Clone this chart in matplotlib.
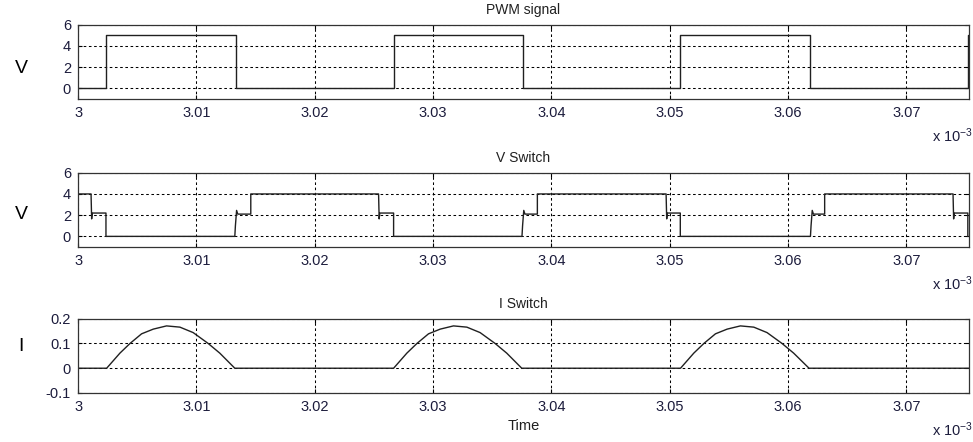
import matplotlib.pyplot as plt

plt.rcParams['font.family'] = ['Liberation Sans', 'DejaVu Sans']
plt.rcParams['mathtext.fontset'] = 'custom'
plt.rcParams['mathtext.rm'] = 'Liberation Sans'
plt.rcParams['mathtext.it'] = 'Liberation Sans'

# time axis values are in units of 1e-3 s
x_ticks = [3.0, 3.01, 3.02, 3.03, 3.04, 3.05, 3.06, 3.07]
x_tick_labels = ['3', '3.01', '3.02', '3.03', '3.04', '3.05', '3.06', '3.07']

# PWM signal
pwm_t = [3.0, 3.00236, 3.00236, 3.01333, 3.01333, 3.02667, 3.02667, 3.03758,
         3.03758, 3.0509, 3.0509, 3.0619, 3.0619, 3.0752, 3.0752, 3.0753]
pwm_v = [0, 0, 5, 5, 0, 0, 5, 5, 0, 0, 5, 5, 0, 0, 5, 5]

# V switch
vsw_t = [3.0, 3.0011, 3.00115, 3.0012, 3.00236, 3.00236,
         3.01325, 3.0133, 3.0134, 3.0135, 3.0146, 3.0146,
         3.0254, 3.02545, 3.0255, 3.02667, 3.02667,
         3.03752, 3.03757, 3.03767, 3.03777, 3.03882, 3.03882,
         3.0497, 3.04975, 3.0498, 3.0509, 3.0509,
         3.0619, 3.06195, 3.06205, 3.06215, 3.0631, 3.0631,
         3.07395, 3.074, 3.07405, 3.0752, 3.0752]
vsw_v = [4.0, 4.0, 1.65, 2.2, 2.2, 0,
         0, 1.0, 2.45, 2.1, 2.1, 4.0,
         4.0, 1.65, 2.2, 2.2, 0,
         0, 1.0, 2.45, 2.1, 2.1, 4.0,
         4.0, 1.65, 2.2, 2.2, 0,
         0, 1.0, 2.45, 2.1, 2.1, 4.0,
         4.0, 1.65, 2.2, 2.2, 0]

# I switch
isw_t = [3.0,
         3.00242, 3.00354, 3.00439, 3.00537, 3.00636, 3.00748,
         3.00861, 3.00973, 3.01100, 3.01198, 3.01325,
         3.02667, 3.02779, 3.02864, 3.02962, 3.03061, 3.03173,
         3.03286, 3.03398, 3.03525, 3.03623, 3.03750,
         3.05092, 3.05204, 3.05289, 3.05387, 3.05486, 3.05598,
         3.05711, 3.05823, 3.05950, 3.06048, 3.06178,
         3.0753]
isw_v = [0,
         0, 0.061, 0.1, 0.139, 0.158, 0.171, 0.166, 0.144, 0.1, 0.061, 0,
         0, 0.061, 0.1, 0.139, 0.158, 0.171, 0.166, 0.144, 0.1, 0.061, 0,
         0, 0.061, 0.1, 0.139, 0.158, 0.171, 0.166, 0.144, 0.1, 0.061, 0,
         0]

# title, y label, data, ylim, yticks, axes bottom, y label height
panels = [
    ('PWM signal', 'V', pwm_t, pwm_v, (-1, 6), [0, 2, 4, 6], ['0', '2', '4', '6'], 0.776, 0.846),
    ('V Switch', 'V', vsw_t, vsw_v, (-1, 6), [0, 2, 4, 6], ['0', '2', '4', '6'], 0.4412, 0.514),
    ('I Switch', 'I', isw_t, isw_v, (-0.1, 0.2), [-0.1, 0, 0.1, 0.2],
     ['-0.1', '0', '0.1', '0.2'], 0.1109, 0.215),
]

tick_color = '#1c1c3c'
fig = plt.figure(figsize=(9.73, 4.42), dpi=100)

for i, (title, ylab, t, v, ylim, yt, ytl, bottom, ylab_y) in enumerate(panels):
    ax = fig.add_axes([0.0802, bottom, 0.9157, 0.168])
    ax.plot(t, v, color='#202020', linewidth=1.0)
    ax.set_xlim(3.0, 3.0753)
    ax.set_ylim(*ylim)
    ax.set_xticks(x_ticks)
    ax.set_xticklabels(x_tick_labels)
    ax.set_yticks(yt)
    ax.set_yticklabels(ytl)
    ax.tick_params(direction='in', length=3, width=0.8, top=True, right=True,
                   labelsize=10.5, labelcolor=tick_color, pad=5)
    ax.grid(True, color='black', linestyle=(0, (2.5, 2.5)), linewidth=0.75)
    for s in ax.spines.values():
        s.set_linewidth(0.9)
        s.set_color('#333333')
    ax.set_title(title, fontsize=10, pad=8, color='#202020')
    fig.text(0.022, ylab_y, ylab, fontsize=14, ha='center', va='center')
    fig.text(0.958, bottom - 0.083, r'x 10$^{-3}$', fontsize=10.5,
             ha='left', va='center', color=tick_color)
    if i == 2:
        ax.set_xlabel('Time', fontsize=10.5, labelpad=4, color='#202020')

fig.savefig('out.png', dpi=100)
